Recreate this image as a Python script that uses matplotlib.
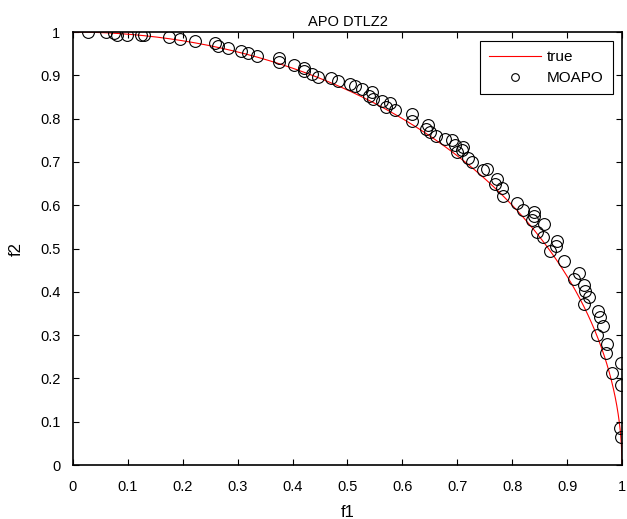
import numpy as np
import matplotlib.pyplot as plt

plt.rcParams['font.family'] = ['Liberation Sans', 'DejaVu Sans']

# MOAPO solutions
f1_vals = [0.028, 0.060, 0.075, 0.081, 0.098, 0.124, 0.130, 0.175, 0.195, 0.222,
           0.259, 0.265, 0.283, 0.306, 0.318, 0.335, 0.376, 0.376, 0.403, 0.421,
           0.421, 0.435, 0.446, 0.470, 0.482, 0.505, 0.514, 0.526, 0.544, 0.540,
           0.547, 0.563, 0.577, 0.571, 0.587, 0.618, 0.618, 0.647, 0.643, 0.650,
           0.662, 0.678, 0.690, 0.696, 0.699, 0.710, 0.708, 0.720, 0.726, 0.747,
           0.754, 0.772, 0.769, 0.781, 0.783, 0.808, 0.819, 0.840, 0.839, 0.837,
           0.858, 0.846, 0.857, 0.882, 0.880, 0.869, 0.895, 0.922, 0.913, 0.931,
           0.933, 0.940, 0.931, 0.957, 0.960, 0.965, 0.954, 0.972, 0.971, 0.998,
           0.981, 0.998, 0.996, 0.998]
f2_vals = [0.999, 0.999, 0.998, 0.993, 0.994, 0.993, 0.993, 0.988, 0.985, 0.980,
           0.975, 0.968, 0.963, 0.956, 0.951, 0.945, 0.941, 0.931, 0.924, 0.918,
           0.911, 0.902, 0.897, 0.893, 0.886, 0.879, 0.875, 0.868, 0.862, 0.853,
           0.845, 0.841, 0.837, 0.827, 0.819, 0.811, 0.795, 0.785, 0.775, 0.768,
           0.760, 0.754, 0.751, 0.739, 0.724, 0.735, 0.727, 0.708, 0.700, 0.681,
           0.684, 0.660, 0.648, 0.639, 0.622, 0.606, 0.590, 0.584, 0.575, 0.567,
           0.556, 0.539, 0.526, 0.518, 0.506, 0.495, 0.471, 0.444, 0.430, 0.416,
           0.402, 0.387, 0.372, 0.356, 0.341, 0.321, 0.300, 0.279, 0.259, 0.236,
           0.212, 0.185, 0.085, 0.065]

ticks = np.arange(0, 11) / 10
tick_labels = ["0", "0.1", "0.2", "0.3", "0.4", "0.5", "0.6", "0.7", "0.8", "0.9", "1"]

# true Pareto front of DTLZ2 (quarter circle)
t = np.linspace(0, np.pi / 2, 400)

fig = plt.figure(figsize=(6.27, 5.19), dpi=100)
ax = fig.add_axes([0.1164, 0.104, 0.8756, 0.8343])

ax.plot(np.cos(t), np.sin(t), color="red", linewidth=0.8, label="true")
ax.plot(f1_vals, f2_vals, linestyle="none", marker="o", markersize=8.5,
        markerfacecolor="none", markeredgecolor="black", markeredgewidth=0.8,
        label="MOAPO")

ax.set_xlim(0, 1)
ax.set_ylim(0, 1)
ax.set_xticks(ticks)
ax.set_xticklabels(tick_labels)
ax.set_yticks(ticks)
ax.set_yticklabels(tick_labels)
ax.tick_params(direction="in", length=4, width=0.8, top=True, right=True,
               labelsize=10.5)
ax.tick_params(axis="x", pad=11)
ax.tick_params(axis="y", pad=9)
for s in ax.spines.values():
    s.set_linewidth(1.2)

ax.set_title("APO DTLZ2", fontsize=10.5, pad=4)
ax.set_xlabel("f1", fontsize=12, labelpad=8)
ax.set_ylabel("f2", fontsize=12, labelpad=12)

leg = ax.legend(loc="upper right", fontsize=11, handlelength=3.4,
                handletextpad=0.4, markerscale=0.65, labelspacing=0.45,
                borderpad=0.6, fancybox=False, edgecolor="black",
                framealpha=1, borderaxespad=0.6)
leg.get_frame().set_linewidth(0.8)

fig.savefig("out.png", dpi=100)
